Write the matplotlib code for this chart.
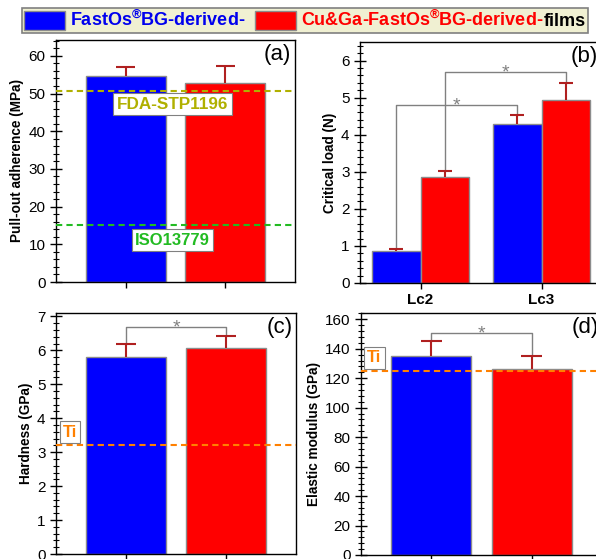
import numpy as np
import matplotlib
matplotlib.use("Agg")
import matplotlib.pyplot as plt
from matplotlib.ticker import MultipleLocator, AutoMinorLocator
from matplotlib.offsetbox import (AnchoredOffsetbox, DrawingArea, HPacker,
                                  TextArea)
from matplotlib.patches import Rectangle

plt.rcParams.update({
    "font.family": ["Liberation Sans", "DejaVu Sans"],
    "font.size": 11,
    "mathtext.fontset": "custom",
    "mathtext.rm": "Liberation Sans",
    "mathtext.bf": "Liberation Sans:bold",
    "mathtext.default": "bf",
    "axes.linewidth": 1.0,
})

# ── data ─────────────────────────────────────────────────
adhesion = [54.7, 52.9]
adhesion_err = [2.3, 4.3]
fda_limit = 50.8
iso_limit = 15.0

crit_labels = ["Lc2", "Lc3"]
crit_blue = [0.87, 4.30]
crit_blue_err = [0.05, 0.22]
crit_red = [2.87, 4.93]
crit_red_err = [0.16, 0.47]

hardness = [5.80, 6.08]
hardness_err = [0.40, 0.34]
ti_hardness = 3.2

modulus = [135.1, 126.3]
modulus_err = [10.4, 9.0]
ti_modulus = 125

BLUE = "#0000ff"
RED = "#ff0000"
ERR = "#b02020"
EDGE = "#8c8c8c"
GRAY = "#808080"
OLIVE = "#b0b000"
GREEN = "#22bb22"
ORANGE = "#ff8000"

fig = plt.figure(figsize=(5.96, 5.59), dpi=100)
ax_a = fig.add_axes([56 / 596, 1 - 282 / 559, 239 / 596, 242 / 559])
ax_b = fig.add_axes([360 / 596, 1 - 283 / 559, 242 / 596, 241 / 559])
ax_c = fig.add_axes([56 / 596, 1 - 554 / 559, 240 / 596, 241 / 559])
ax_d = fig.add_axes([361 / 596, 1 - 555 / 559, 241 / 596, 242 / 559])


def upper_err(ax, x, val, err, half):
    top = np.array(val) + np.array(err)
    ax.vlines(x, val, top, color=ERR, lw=1.5, zorder=4)
    ax.hlines(top, np.array(x) - half, np.array(x) + half, color=ERR, lw=1.5, zorder=4)


def bracket(ax, x1, x2, y, y1, y2, star_fs=14):
    ax.plot([x1, x1, x2, x2], [y1, y, y, y2], color=GRAY, lw=1, zorder=3)
    ax.annotate("*", xy=((x1 + x2) / 2, y), xytext=(0, -1), textcoords="offset points",
                ha="center", va="center", color=GRAY, fontsize=star_fs)


def style(ax, major, ymax, label, tag):
    ax.set_ylim(0, ymax)
    ax.yaxis.set_major_locator(MultipleLocator(major))
    ax.yaxis.set_minor_locator(AutoMinorLocator(5))
    ax.tick_params(axis="y", which="major", direction="inout", length=8, width=1, labelsize=11)
    ax.tick_params(axis="y", which="minor", direction="inout", length=4, width=0.8)
    ax.tick_params(axis="x", which="major", direction="out", length=4, width=1)
    ax.set_ylabel(label, fontsize=9.8, fontweight="bold", labelpad=3)
    ax.text(0.985, 0.985, tag, transform=ax.transAxes, ha="right", va="top", fontsize=16)


def label_box(ax, x, y, s, color, fs=12):
    ax.text(x, y, s, ha="center", va="center", color=color, fontsize=fs,
            fontweight="bold", zorder=5,
            bbox=dict(boxstyle="square,pad=0.2", fc="white", ec=GRAY, lw=0.8))


x2 = np.arange(1, 3)

# (a) pull-out adherence
ax_a.bar(x2, adhesion, width=0.8, color=[BLUE, RED], edgecolor=EDGE, lw=1, zorder=2)
upper_err(ax_a, x2, adhesion, adhesion_err, 0.097)
ax_a.axhline(fda_limit, color=OLIVE, ls=(0, (3, 2)), lw=1.5, zorder=3)
ax_a.axhline(iso_limit, color=GREEN, ls=(0, (3, 2)), lw=1.5, zorder=3)
label_box(ax_a, 1.47, fda_limit - 3.6, "FDA-STP1196", OLIVE, 12.3)
label_box(ax_a, 1.47, iso_limit - 3.9, "ISO13779", GREEN, 12)
ax_a.set_xlim(0.3, 2.7)
ax_a.set_xticks(x2)
ax_a.set_xticklabels([])
style(ax_a, 10, 64.2, "Pull-out adherence (MPa)", "(a)")

# (b) critical load
xc = np.arange(1, 3)
ax_b.bar(xc - 0.2, crit_blue, width=0.4, color=BLUE, edgecolor=EDGE, lw=1, zorder=2)
ax_b.bar(xc + 0.2, crit_red, width=0.4, color=RED, edgecolor=EDGE, lw=1, zorder=2)
upper_err(ax_b, xc - 0.2, crit_blue, crit_blue_err, 0.058)
upper_err(ax_b, xc + 0.2, crit_red, crit_red_err, 0.058)
bracket(ax_b, 0.8, 1.8, 4.8, crit_blue[0] + crit_blue_err[0], crit_blue[1] + crit_blue_err[1])
bracket(ax_b, 1.2, 2.2, 5.7, crit_red[0] + crit_red_err[0], crit_red[1] + crit_red_err[1])
ax_b.set_xlim(0.5, 2.5)
ax_b.set_xticks(xc)
ax_b.set_xticklabels(crit_labels, fontweight="bold", fontsize=11)
style(ax_b, 1, 6.5, "Critical load (N)", "(b)")
ax_b.tick_params(axis="x", pad=3)

# (c) hardness
ax_c.bar(x2, hardness, width=0.8, color=[BLUE, RED], edgecolor=EDGE, lw=1, zorder=2)
upper_err(ax_c, x2, hardness, hardness_err, 0.097)
ax_c.axhline(ti_hardness, color=ORANGE, ls=(0, (3, 2)), lw=1.5, zorder=3)
label_box(ax_c, 0.44, 3.59, "Ti", ORANGE)
bracket(ax_c, 1, 2, 6.69, hardness[0] + hardness_err[0], hardness[1] + hardness_err[1])
ax_c.set_xlim(0.3, 2.7)
ax_c.set_xticks(x2)
ax_c.set_xticklabels([])
style(ax_c, 1, 7.1, "Hardness (GPa)", "(c)")

# (d) elastic modulus
ax_d.bar(x2, modulus, width=0.8, color=[BLUE, RED], edgecolor=EDGE, lw=1, zorder=2)
upper_err(ax_d, x2, modulus, modulus_err, 0.105)
ax_d.axhline(ti_modulus, color=ORANGE, ls=(0, (3, 2)), lw=1.5, zorder=3)
label_box(ax_d, 0.43, 133.8, "Ti", ORANGE)
bracket(ax_d, 1, 2, 151, modulus[0] + modulus_err[0], modulus[1] + modulus_err[1])
ax_d.set_xlim(0.3, 2.7)
ax_d.set_xticks(x2)
ax_d.set_xticklabels([])
style(ax_d, 20, 164.3, "Elastic modulus (GPa)", "(d)")

# ── legend strip on top ─────────────────────────────────
def swatch(color):
    da = DrawingArea(29, 14, 0, 0)
    da.add_artist(Rectangle((0, 0), 29, 14, fc=color, ec=EDGE, lw=1))
    return da


tp = dict(fontsize=13, fontweight="bold")
blue_txt = TextArea(r"FastOs$^{®}$BG-derived-", textprops=dict(color="#0000ee", **tp))
red_txt = TextArea(r"Cu&Ga-FastOs$^{®}$BG-derived-", textprops=dict(color=RED, **tp))
films_txt = TextArea("films", textprops=dict(color="black", **tp))
row = HPacker(children=[
    HPacker(children=[swatch(BLUE), blue_txt], sep=4, align="center"),
    HPacker(children=[swatch(RED), HPacker(children=[red_txt, films_txt], sep=0,
                                           align="baseline")], sep=4, align="center"),
], sep=7, align="center")
leg = AnchoredOffsetbox(loc="upper left", child=row, pad=0.15, borderpad=0,
                        frameon=True, bbox_to_anchor=(22 / 596, 1 - 8 / 559),
                        bbox_transform=fig.transFigure)
leg.patch.set_facecolor("#f0f0d2")
leg.patch.set_edgecolor("#808080")
leg.patch.set_linewidth(1.2)
fig.add_artist(leg)

fig.savefig("out.png", dpi=100)
